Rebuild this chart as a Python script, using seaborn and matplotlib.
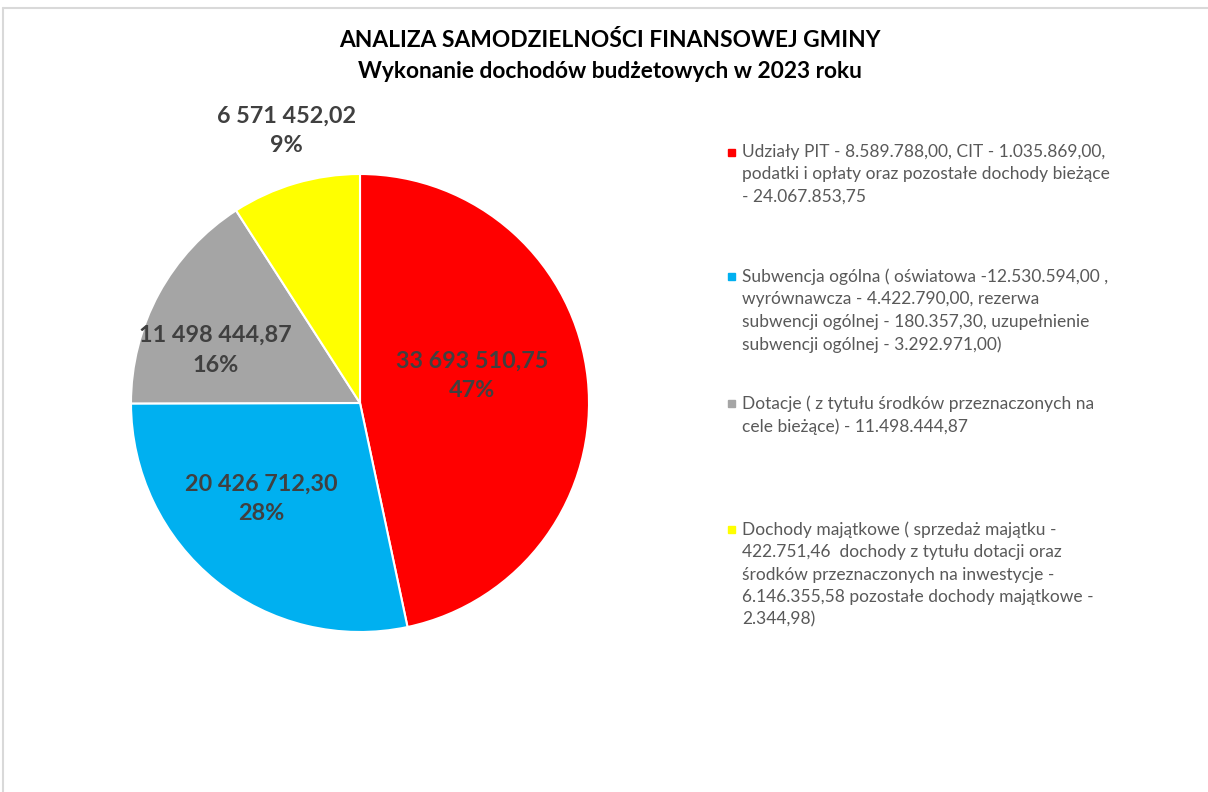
"""Pie chart: budget revenue structure of the gmina in 2023."""

import matplotlib.pyplot as plt
import seaborn as sns
from matplotlib.lines import Line2D
from matplotlib.patches import Rectangle

# --- data -------------------------------------------------------------------
categories = [
    "Udziały PIT - 8.589.788,00, CIT - 1.035.869,00,\n"
    "podatki i opłaty oraz pozostałe dochody bieżące\n"
    "- 24.067.853,75",
    "Subwencja ogólna ( oświatowa -12.530.594,00 ,\n"
    "wyrównawcza - 4.422.790,00, rezerwa\n"
    "subwencji ogólnej - 180.357,30, uzupełnienie\n"
    "subwencji ogólnej - 3.292.971,00)",
    "Dotacje ( z tytułu środków przeznaczonych na\n"
    "cele bieżące) - 11.498.444,87",
    "Dochody majątkowe ( sprzedaż majątku -\n"
    "422.751,46  dochody z tytułu dotacji oraz\n"
    "środków przeznaczonych na inwestycje -\n"
    "6.146.355,58 pozostałe dochody majątkowe -\n"
    "2.344,98)",
]
values = [33693510.75, 20426712.30, 11498444.87, 6571452.02]
value_labels = ["33 693 510,75", "20 426 712,30", "11 498 444,87", "6 571 452,02"]
percent_labels = ["47%", "28%", "16%", "9%"]
colors = ["#FF0000", "#00B0F0", "#A5A5A5", "#FFFF00"]

title = ("ANALIZA SAMODZIELNOŚCI FINANSOWEJ GMINY\n"
         "Wykonanie dochodów budżetowych w 2023 roku")

# label positions relative to pie centre, in units of radius
label_offsets = [(0.49, 0.12), (-0.43, -0.42), (-0.63, 0.23), (-0.32, 1.19)]
# legend entry tops in figure pixels (from top)
legend_tops = [144, 268, 395, 521]

sns.set_theme(style="white")
plt.rcParams["font.family"] = ["Lato", "DejaVu Sans"]

W, H = 1208, 792
fig = plt.figure(figsize=(W / 100, H / 100), dpi=100)

# chart frame (light gray, top and left edges visible)
fig.add_artist(Line2D([3 / W, 1], [1 - 8 / H, 1 - 8 / H],
                      transform=fig.transFigure, color="#D9D9D9", lw=1.5))
fig.add_artist(Line2D([3 / W, 3 / W], [0, 1 - 8 / H],
                      transform=fig.transFigure, color="#D9D9D9", lw=1.5))

# pie axes: centre (360, 403) px, radius 229 px
cx, cy, R = 360, 403, 229
half = 300
ax = fig.add_axes([(cx - half) / W, (H - cy - half) / H, 2 * half / W, 2 * half / H])
wedges, _ = ax.pie(
    values, colors=colors, startangle=90, counterclock=False,
    radius=1.0, wedgeprops=dict(edgecolor="white", linewidth=1.5),
)
lim = half / R
ax.set_xlim(-lim, lim)
ax.set_ylim(-lim, lim)
ax.set_aspect("equal")
ax.axis("off")

for (dx, dy), v, p in zip(label_offsets, value_labels, percent_labels):
    ax.text(dx, dy, f"{v}\n{p}", ha="center", va="center", fontsize=16.8,
            fontweight="bold", color="#404040", linespacing=1.5)

fig.text(0.505, 1 - 56 / H, title, ha="center", va="center", fontsize=16.4,
         fontweight="bold", color="#000000", linespacing=1.55)

# legend
for top, label, c in zip(legend_tops, categories, colors):
    fig.add_artist(Rectangle((728 / W, 1 - (top + 12) / H), 7 / W, 7 / H,
                             transform=fig.transFigure, color=c))
    fig.text(742 / W, 1 - top / H, label, ha="left", va="top", fontsize=12.5,
             color="#595959", linespacing=1.5)

fig.savefig("out.png", dpi=100, facecolor="white")
